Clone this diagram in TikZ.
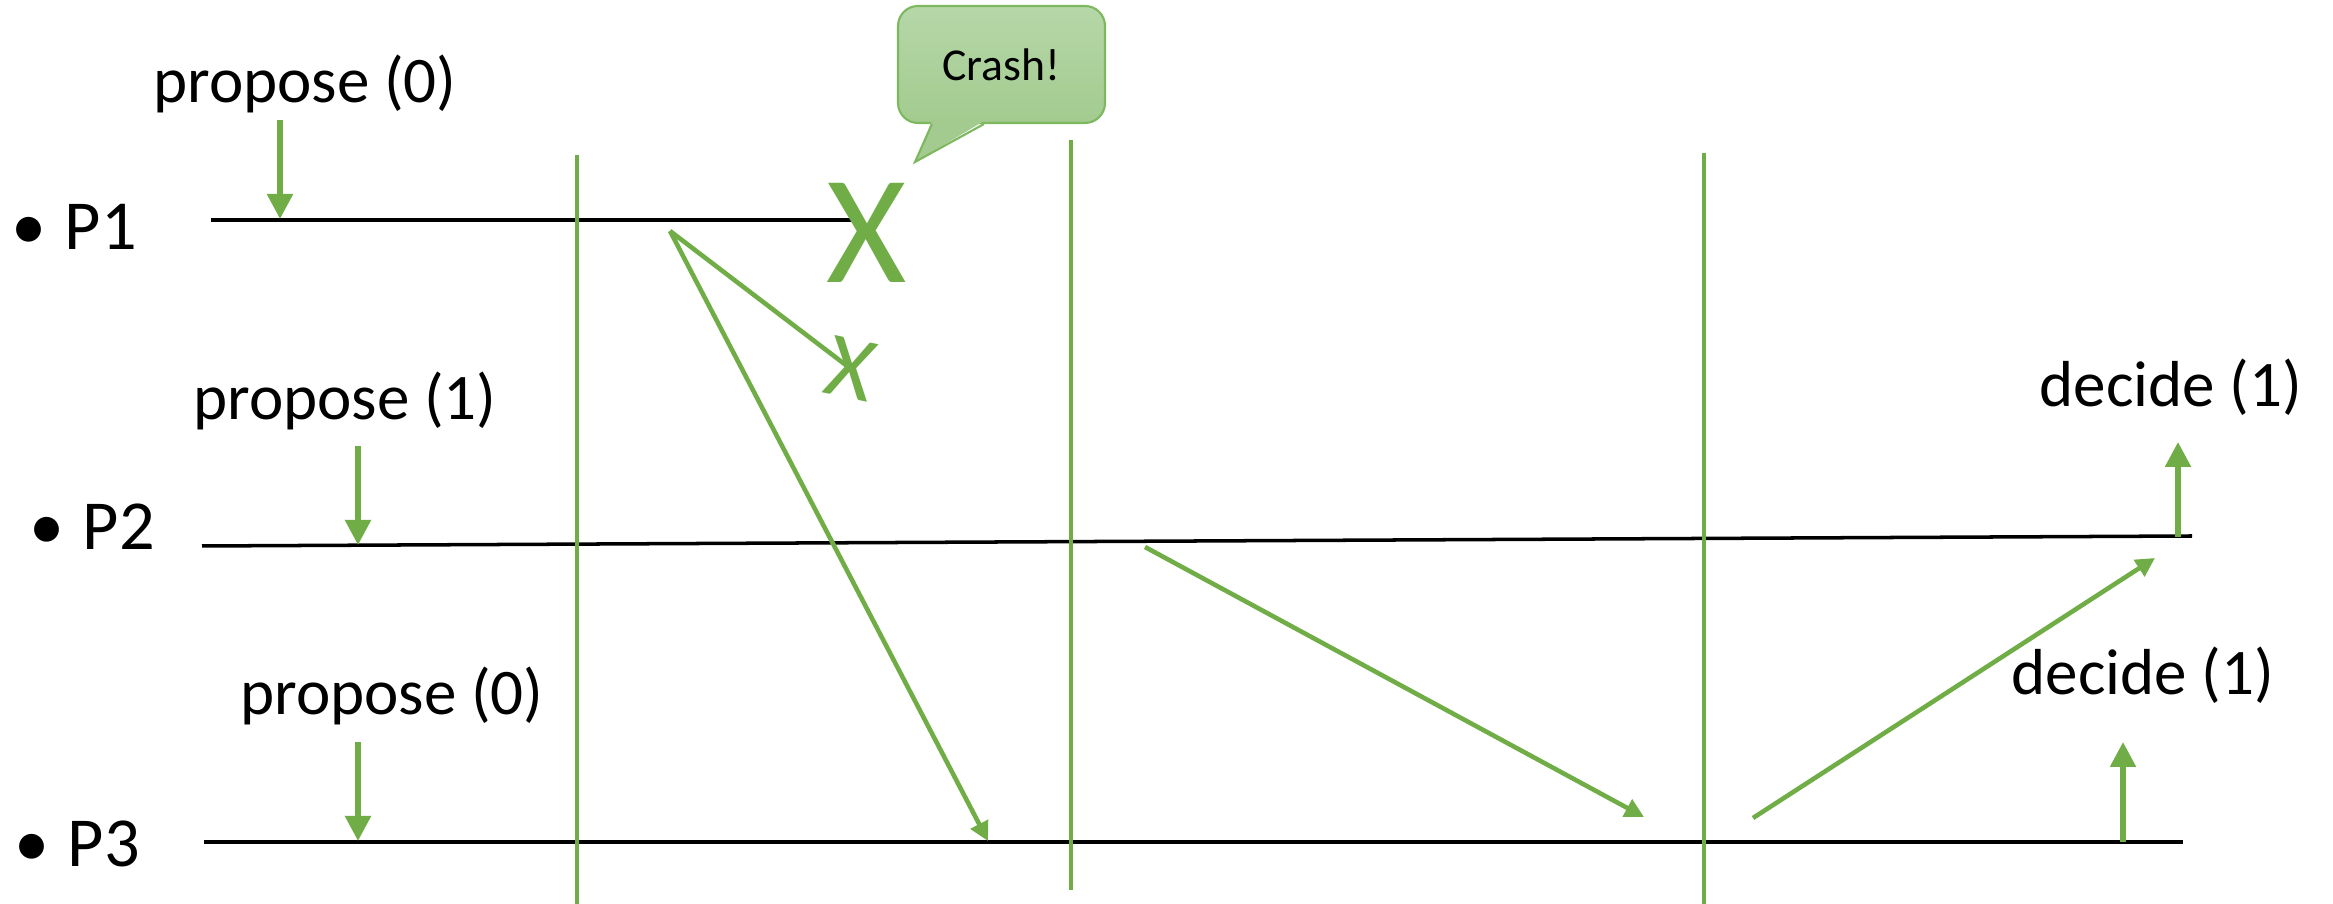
\documentclass[tikz,border=0pt]{standalone}
\usepackage{fontspec}
\setmainfont{Carlito}
\usetikzlibrary{arrows.meta}
\definecolor{ogreen}{HTML}{70AD47}
\definecolor{bubbletop}{HTML}{B6D7A8}
\definecolor{bubblebot}{HTML}{A3CB8F}
\definecolor{bubbleline}{HTML}{7DB85F}

\begin{document}
\begin{tikzpicture}[
    timeline/.style={line width=1pt, black},
    round/.style={line width=1pt, ogreen},
    msg/.style={line width=1.3pt, ogreen},
    arrow/.style={line width=1.5pt, ogreen, -{Triangle[length=0.25cm, width=0.25cm]}},
    msgarrow/.style={msg, -{Triangle[length=0.19cm, width=0.19cm]}},
    event/.style={inner sep=0pt, anchor=base, font=\fontsize{18.5}{22}\selectfont},
    proc/.style={inner sep=0pt, anchor=base west, font=\fontsize{20}{24}\selectfont},
    bubble/.style={rectangle, rounded corners=0.2cm, draw=bubbleline, line width=0.6pt, top color=bubbletop, bottom color=bubblebot, minimum width=2.07cm, minimum height=1.17cm, font=\fontsize{13}{15}\selectfont}
]

\useasboundingbox (0,0) rectangle (23.33,9.04);

\node (p1) [proc] at (0.11,6.54) {\textbullet\hspace{0.18cm}P1};
\node (p2) [proc] at (0.29,3.54) {\textbullet\hspace{0.18cm}P2};
\node (p3) [proc] at (0.14,0.37) {\textbullet\hspace{0.18cm}P3};

\coordinate (p1start) at (2.11,6.84);
\coordinate (p1end) at (8.52,6.84);
\coordinate (p2start) at (2.02,3.58);
\coordinate (p2end) at (21.92,3.68);
\coordinate (p3start) at (2.04,0.62);
\coordinate (p3end) at (21.83,0.62);

\draw [timeline] (p1start) -- (p1end);
\draw [timeline] (p2start) -- (p2end);
\draw [timeline] (p3start) -- (p3end);

\coordinate (r1top) at (5.77,7.49);
\coordinate (r1bot) at (5.77,0);
\coordinate (r2top) at (10.71,7.64);
\coordinate (r2bot) at (10.71,0.14);
\coordinate (r3top) at (17.04,7.51);
\coordinate (r3bot) at (17.04,0);

\draw [round] (r1top) -- (r1bot);
\draw [round] (r2top) -- (r2bot);
\draw [round] (r3top) -- (r3bot);

\node (prop1) [event] at (3.05,8.01) {propose (0)};
\node (prop2) [event] at (3.45,4.84) {propose (1)};
\node (prop3) [event] at (3.92,1.89) {propose (0)};
\node (dec2) [event] at (21.71,4.97) {decide (1)};
\node (dec3) [event] at (21.43,2.09) {decide (1)};

\coordinate (in1) at (2.80,7.84);
\coordinate (at1) at (2.80,6.85);
\coordinate (in2) at (3.58,4.58);
\coordinate (at2) at (3.58,3.59);
\coordinate (in3) at (3.58,1.62);
\coordinate (at3) at (3.58,0.63);
\coordinate (out2) at (21.78,3.67);
\coordinate (up2) at (21.78,4.62);
\coordinate (out3) at (21.23,0.62);
\coordinate (up3) at (21.23,1.62);

\draw [arrow] (in1) -- (at1);
\draw [arrow] (in2) -- (at2);
\draw [arrow] (in3) -- (at3);
\draw [arrow] (out2) -- (up2);
\draw [arrow] (out3) -- (up3);

\node (crash) [bubble] at (10.015,8.395) {Crash!};
\coordinate (tailtip) at (9.15,7.42);
\fill [bubblebot] ([xshift=0.35cm, yshift=0.03cm]crash.south west) -- (tailtip) -- ([xshift=0.87cm, yshift=0.03cm]crash.south west) -- cycle;
\draw [bubbleline, line width=0.6pt] ([xshift=0.35cm]crash.south west) -- (tailtip) -- ([xshift=0.87cm]crash.south west);

\node (crashx) [text=ogreen, font=\fontsize{44}{44}\selectfont] at (8.67,6.71) {X};
\node (lostx) [text=ogreen, font=\fontsize{26}{26}\selectfont, rotate=-12] at (8.51,5.35) {X};

\coordinate (m1start) at (6.70,6.73);
\coordinate (m1end) at (9.88,0.63);
\coordinate (m2start) at (11.45,3.57);
\coordinate (m2end) at (16.44,0.87);
\coordinate (m3start) at (17.53,0.86);
\coordinate (m3end) at (21.55,3.46);

\draw [msg] (m1start) -- (lostx.center);
\draw [msgarrow] (m1start) -- (m1end);
\draw [msgarrow] (m2start) -- (m2end);
\draw [msgarrow] (m3start) -- (m3end);

\end{tikzpicture}
\end{document}
